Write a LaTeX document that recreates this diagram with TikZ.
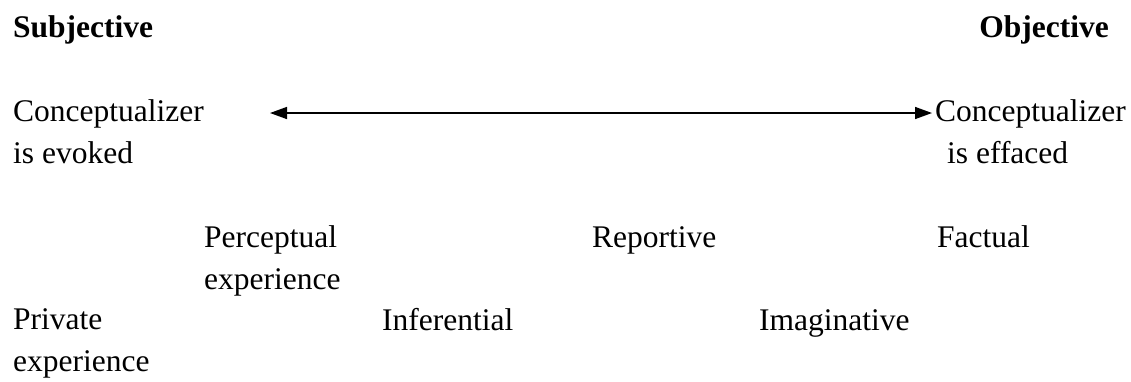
\documentclass[tikz,border=0pt]{standalone}
\usepackage{fontspec}
\setmainfont{Liberation Serif}
\usetikzlibrary{arrows.meta}
\begin{document}
\begin{tikzpicture}[x=1pt,y=-1pt,
  lbl/.style={inner sep=0pt, anchor=base west, align=left, font=\fontsize{31.5}{41.7}\selectfont},
  hd/.style={inner sep=0pt, anchor=base west, font=\fontsize{31.5}{41.7}\selectfont\bfseries},
  scale arrow/.style={line width=1.5pt, {Triangle[length=17pt,width=12pt]}-{Triangle[length=17pt,width=12pt]}}]
\useasboundingbox (0,0) rectangle (1131,381);
\node[hd] (subj) at (13,37) {Subjective};
\node[hd, anchor=base east] (obj) at (1109,37) {Objective};
% multi-line nodes: base anchor is the baseline of the last line
\node[lbl] (cl) at (13,163) {Conceptualizer\\is evoked};
\node[lbl] (cr) at (935,163) {Conceptualizer\\\hspace{12pt}is effaced};
\node[lbl] (perc) at (204,289) {Perceptual\\experience};
\node[lbl] (rep) at (592,247) {Reportive};
\node[lbl] (fact) at (937,247) {Factual};
\node[lbl] (priv) at (13,371) {Private\\experience};
\node[lbl] (inf) at (382,330) {Inferential};
\node[lbl] (imag) at (759,330) {Imaginative};
\coordinate (al) at (270,113);
\coordinate (ar) at (932,113);
\draw[scale arrow] (al) -- (ar);
\end{tikzpicture}
\end{document}
